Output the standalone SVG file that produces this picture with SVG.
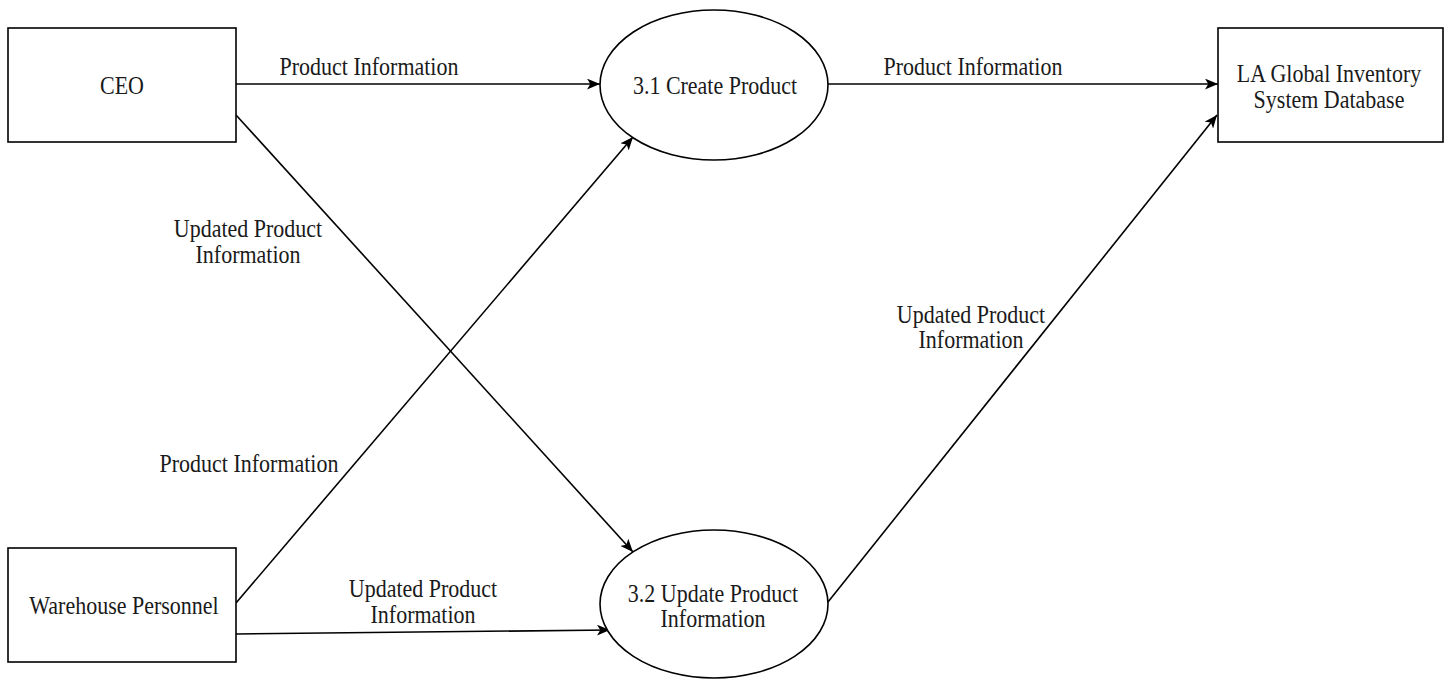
<svg xmlns="http://www.w3.org/2000/svg" width="1445" height="680" viewBox="0 0 1445 680">
<style>
.box{fill:#fff;stroke:#000;stroke-width:1.6}
.proc{fill:#fff;stroke:#000;stroke-width:1.6}
.lbl{font-family:"Liberation Serif","Times New Roman",serif;font-size:22px;fill:#1a1a1a;text-anchor:middle}
.conn{fill:none;stroke:#000;stroke-width:1.6;marker-end:url(#arr)}
</style>
<defs>
<marker id="arr" viewBox="0 0 12 10" refX="12" refY="5" markerWidth="13" markerHeight="11" markerUnits="userSpaceOnUse" orient="auto">
<path d="M0,0 L12,5 L0,10 L3,5 Z" fill="#000"/>
</marker>
</defs>
<rect width="1445" height="680" fill="#fff"/>
<g id="connectors">
<path class="conn" d="M236,84 L600,84"/>
<path class="conn" d="M828,84 L1218,84"/>
<path class="conn" d="M236,115 L633,552"/>
<path class="conn" d="M236,603 L633,137"/>
<path class="conn" d="M236,634 L610,630"/>
<path class="conn" d="M828,602 L1217,115"/>
</g>
<g id="connector-labels">
<text class="lbl" transform="translate(369,75) scale(1,1.15)">Product Information</text>
<text class="lbl" transform="translate(973,75) scale(1,1.15)">Product Information</text>
<text class="lbl" transform="translate(248,237) scale(1,1.15)">Updated Product</text>
<text class="lbl" transform="translate(248,263) scale(1,1.15)">Information</text>
<text class="lbl" transform="translate(971,323) scale(1,1.15)">Updated Product</text>
<text class="lbl" transform="translate(971,348) scale(1,1.15)">Information</text>
<text class="lbl" transform="translate(249,472) scale(1,1.15)">Product Information</text>
<text class="lbl" transform="translate(423,597) scale(1,1.15)">Updated Product</text>
<text class="lbl" transform="translate(423,623) scale(1,1.15)">Information</text>
</g>
<g id="ceo">
<rect class="box" x="8" y="28" width="228" height="114"/>
<text class="lbl" transform="translate(122,94) scale(1,1.15)">CEO</text>
</g>
<g id="warehouse">
<rect class="box" x="8" y="548" width="228" height="114"/>
<text class="lbl" transform="translate(124,614) scale(1,1.15)">Warehouse Personnel</text>
</g>
<g id="create-product">
<ellipse class="proc" cx="714" cy="85" rx="114" ry="75"/>
<text class="lbl" transform="translate(715,94) scale(1,1.15)">3.1 Create Product</text>
</g>
<g id="update-product">
<ellipse class="proc" cx="714" cy="604" rx="114" ry="74"/>
<text class="lbl" transform="translate(713,602) scale(1,1.15)">3.2 Update Product</text>
<text class="lbl" transform="translate(713,627) scale(1,1.15)">Information</text>
</g>
<g id="database">
<rect class="box" x="1218" y="28" width="225" height="114"/>
<text class="lbl" transform="translate(1329,82) scale(1,1.15)">LA Global Inventory</text>
<text class="lbl" transform="translate(1329,108) scale(1,1.15)">System Database</text>
</g>
</svg>
